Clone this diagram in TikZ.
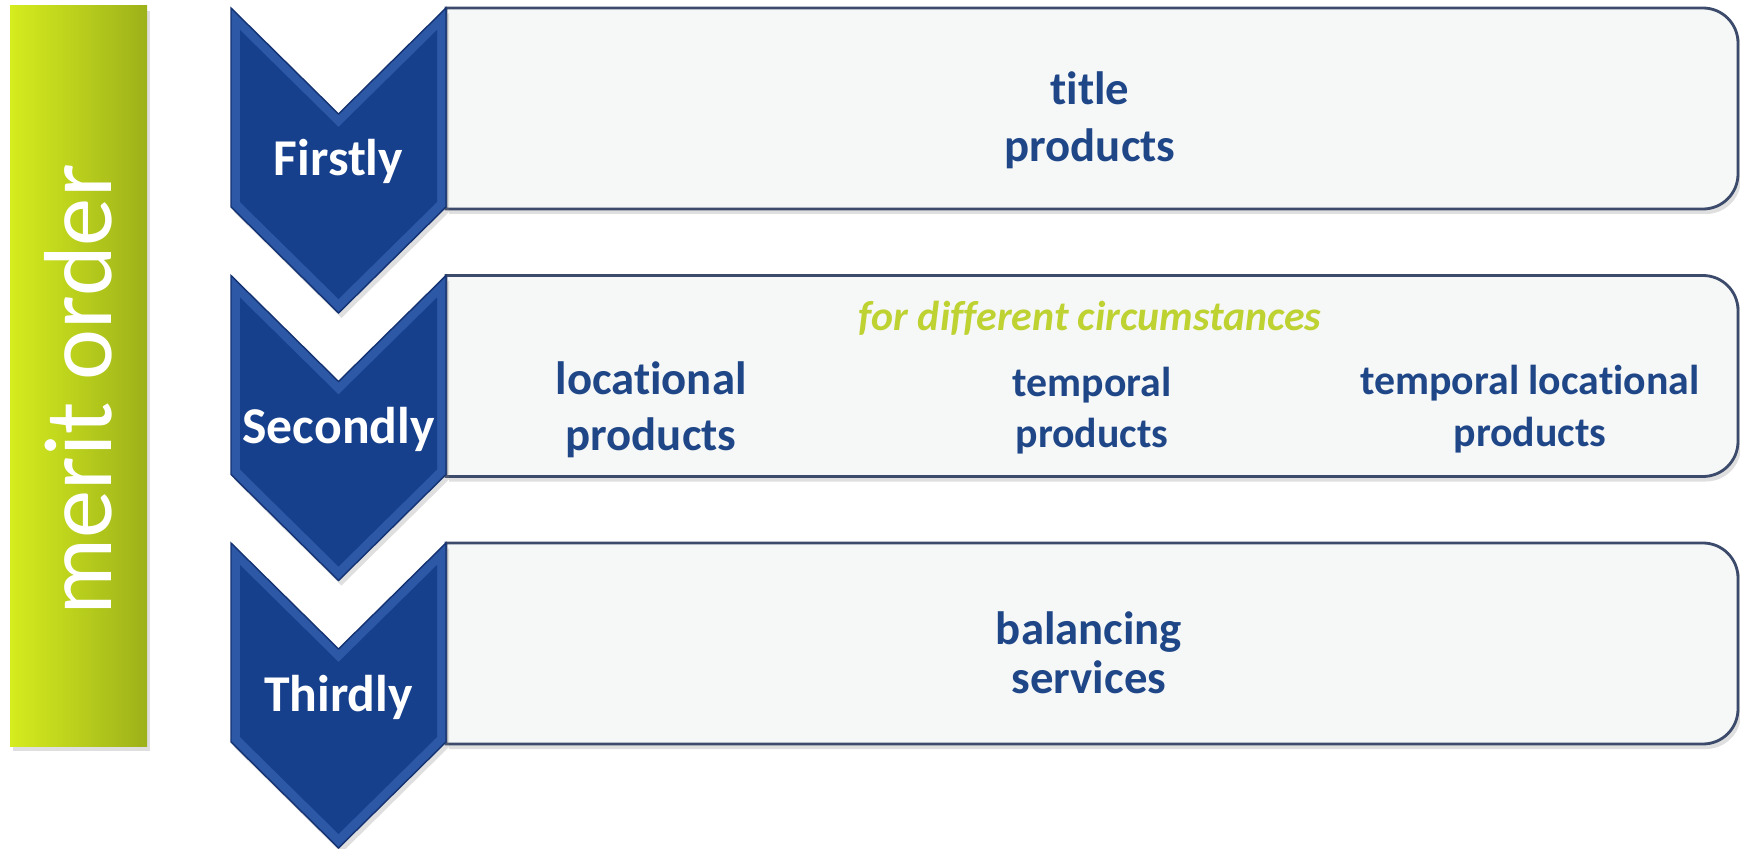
\documentclass[tikz,border=0pt]{standalone}
\usepackage{fontspec}
\setmainfont{Carlito}[Ligatures=NoCommon]
\usetikzlibrary{shadows}

\definecolor{chevblue}{HTML}{17408C}
\definecolor{bevelblue}{HTML}{2C58A6}
\definecolor{edgeblue}{HTML}{143272}
\definecolor{textblue}{HTML}{1F4788}
\definecolor{boxgray}{HTML}{F6F7F7}
\definecolor{boxline}{HTML}{3C4B6B}
\definecolor{limelight}{HTML}{D5EC1E}
\definecolor{limedark}{HTML}{9DB11A}
\definecolor{notegreen}{HTML}{BED232}

\tikzset{
  softshadow/.style={drop shadow={opacity=0.25,shadow xshift=0.03cm,shadow yshift=-0.05cm}},
  chevron/.style={fill=bevelblue,draw=edgeblue,line width=0.4pt,softshadow},
  chevroninner/.style={fill=chevblue},
  stepbox/.style={fill=boxgray,draw=boxline,line width=0.8pt,softshadow},
  meritbar/.style={left color=limelight,right color=limedark,draw=none,softshadow},
  meritlabel/.style={anchor=base,rotate=90,text=white,inner sep=0pt,font=\fontsize{27.5}{30}\selectfont},
  rowlabel/.style={anchor=base,text=white,inner sep=0pt,font=\bfseries\fontsize{14.7}{16}\selectfont},
  bigtext/.style={anchor=base,align=center,text=textblue,inner sep=0pt,font=\bfseries\fontsize{13.3}{13.9}\selectfont},
  smalltext/.style={anchor=base,align=center,text=textblue,inner sep=0pt,font=\bfseries\fontsize{11.9}{14.2}\selectfont},
  notetext/.style={anchor=base,text=notegreen,inner sep=0pt,font=\bfseries\itshape\fontsize{11.9}{14}\selectfont}
}

\begin{document}
\begin{tikzpicture}
\useasboundingbox (0,0) rectangle (17.40,-8.49);

% merit order bar
\fill[meritbar] (0.10,-0.06) rectangle (1.47,-7.46);
\node[meritlabel] (merit) at (1.11,-3.90) {merit order};

% first row
\draw[stepbox] (4.46,-0.08) -- (17.03,-0.08) arc[start angle=90,end angle=0,radius=0.35] -- (17.38,-1.74) arc[start angle=0,end angle=-90,radius=0.35] -- (4.46,-2.09) -- cycle;
\filldraw[chevron] (2.31,-0.08) -- (3.385,-1.14) -- (4.46,-0.08) -- (4.46,-2.07) -- (3.385,-3.13) -- (2.31,-2.07) -- cycle;
\fill[chevroninner] (2.40,-0.30) -- (3.385,-1.27) -- (4.37,-0.30) -- (4.37,-2.02) -- (3.385,-2.99) -- (2.40,-2.02) -- cycle;
\node[rowlabel] (first) at (3.385,-1.76) {Firstly};
\node[bigtext,font=\bfseries\fontsize{13.3}{16.4}\selectfont] (title) at (10.90,-1.62) {title\\products};

% second row
\begin{scope}[yshift=-2.675cm]
\draw[stepbox] (4.46,-0.08) -- (17.03,-0.08) arc[start angle=90,end angle=0,radius=0.35] -- (17.38,-1.74) arc[start angle=0,end angle=-90,radius=0.35] -- (4.46,-2.09) -- cycle;
\filldraw[chevron] (2.31,-0.08) -- (3.385,-1.14) -- (4.46,-0.08) -- (4.46,-2.07) -- (3.385,-3.13) -- (2.31,-2.07) -- cycle;
\fill[chevroninner] (2.40,-0.30) -- (3.385,-1.27) -- (4.37,-0.30) -- (4.37,-2.02) -- (3.385,-2.99) -- (2.40,-2.02) -- cycle;
\node[rowlabel] (second) at (3.385,-1.76) {Secondly};
\node[notetext] (note) at (10.90,-0.625) {for different circumstances};
\node[bigtext,font=\bfseries\fontsize{13.3}{15.9}\selectfont] (loc) at (6.51,-1.83) {locational\\products};
\node[smalltext,font=\bfseries\fontsize{11.9}{14.6}\selectfont] (temp) at (10.92,-1.80) {temporal\\products};
\node[smalltext,font=\bfseries\fontsize{11.9}{14.9}\selectfont] (temploc) at (15.30,-1.79) {temporal locational\\products};
\end{scope}

% third row
\begin{scope}[yshift=-5.35cm]
\draw[stepbox] (4.46,-0.08) -- (17.03,-0.08) arc[start angle=90,end angle=0,radius=0.35] -- (17.38,-1.74) arc[start angle=0,end angle=-90,radius=0.35] -- (4.46,-2.09) -- cycle;
\filldraw[chevron] (2.31,-0.08) -- (3.385,-1.14) -- (4.46,-0.08) -- (4.46,-2.07) -- (3.385,-3.13) -- (2.31,-2.07) -- cycle;
\fill[chevroninner] (2.40,-0.30) -- (3.385,-1.27) -- (4.37,-0.30) -- (4.37,-2.02) -- (3.385,-2.99) -- (2.40,-2.02) -- cycle;
\node[rowlabel] (third) at (3.385,-1.76) {Thirdly};
\node[bigtext] (balance) at (10.89,-1.58) {balancing\\services};
\end{scope}
\end{tikzpicture}
\end{document}
